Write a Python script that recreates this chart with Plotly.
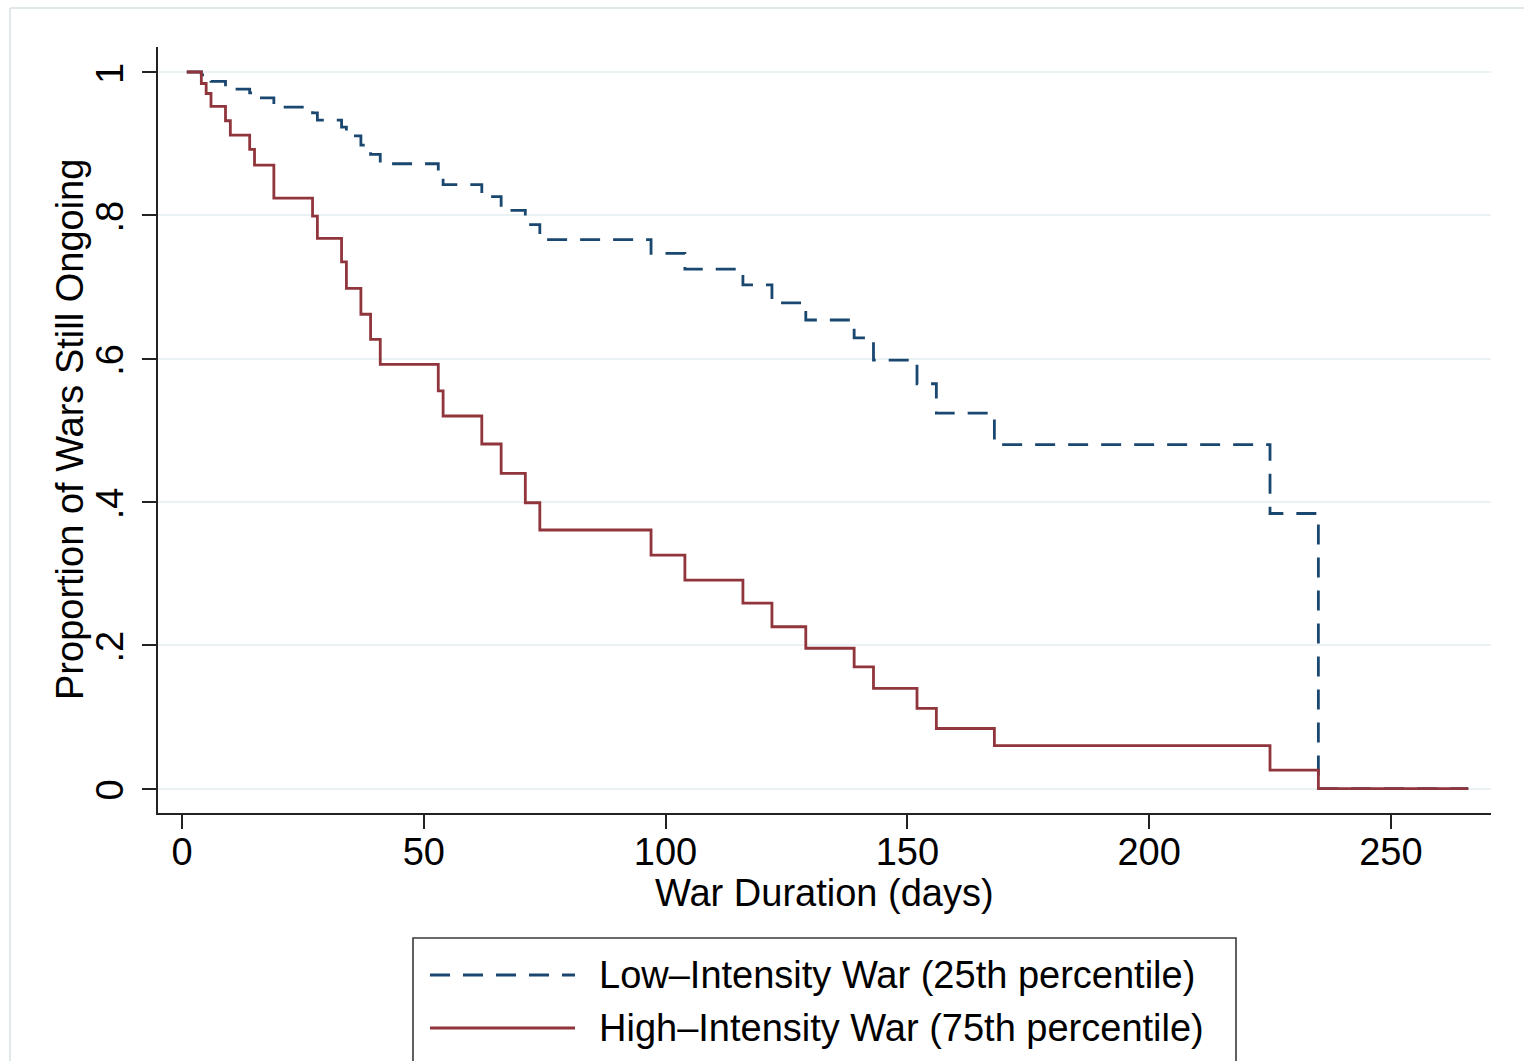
import plotly.graph_objects as go

# ---- data ----
days = [1, 4, 5, 6, 9, 10, 14, 15, 19, 27, 28, 33, 34, 37, 39, 41, 53, 54, 62, 66,
        71, 74, 97, 104, 116, 122, 129, 139, 143, 152, 156, 168, 225, 235, 266]
low_intensity = [1.0, 0.996, 0.992, 0.987, 0.982, 0.976, 0.971, 0.964, 0.951, 0.943,
                 0.933, 0.923, 0.911, 0.898, 0.885, 0.872, 0.858, 0.843, 0.826, 0.807,
                 0.787, 0.766, 0.747, 0.725, 0.703, 0.678, 0.654, 0.629, 0.598, 0.565,
                 0.524, 0.480, 0.384, 0.0, 0.0]
high_intensity = [1.0, 0.984, 0.970, 0.952, 0.932, 0.912, 0.892, 0.870, 0.824, 0.799,
                  0.768, 0.735, 0.698, 0.662, 0.627, 0.592, 0.555, 0.520, 0.481, 0.440,
                  0.399, 0.361, 0.326, 0.291, 0.259, 0.226, 0.196, 0.170, 0.140, 0.112,
                  0.084, 0.060, 0.026, 0.0, 0.0]
series_names = ["Low\u2013Intensity War (25th percentile)",
                "High\u2013Intensity War (75th percentile)"]
x_ticks = [0, 50, 100, 150, 200, 250]
y_ticks = [0, 0.2, 0.4, 0.6, 0.8, 1.0]
y_tick_labels = ["0", ".2", ".4", ".6", ".8", "1"]
x_title = "War Duration (days)"
y_title = "Proportion of Wars Still Ongoing"

# ---- style ----
W, H = 1524, 1061
ML, MR, MT, MB = 158, 33, 47, 248
PW, PH = W - ML - MR, H - MT - MB
BLUE = "#1a476f"
RED = "#90353b"
GRID = "#eaf2f3"
FONT = "Liberation Sans, Arial, Helvetica, sans-serif"
FS = 38
DASH = "20px,13px"


def px(x):
    return (x - ML) / PW


def py(y):
    return (H - MB - y) / PH


fig = go.Figure()
fig.add_trace(go.Scatter(x=days, y=low_intensity, mode="lines", line_shape="hv",
                         name=series_names[0],
                         line=dict(color=BLUE, width=2.8, dash=DASH)))
fig.add_trace(go.Scatter(x=days, y=high_intensity, mode="lines", line_shape="hv",
                         name=series_names[1],
                         line=dict(color=RED, width=2.8)))

shapes = []
annotations = []
# outer graph-region frame (cropped on right/bottom)
shapes.append(dict(type="line", xref="paper", yref="paper", x0=px(10), x1=px(W + 5),
                   y0=py(8), y1=py(8), line=dict(color="#e1e8e9", width=2)))
shapes.append(dict(type="line", xref="paper", yref="paper", x0=px(10), x1=px(10),
                   y0=py(8), y1=py(H + 5), line=dict(color="#e1e8e9", width=2)))
# custom legend box
shapes.append(dict(type="rect", xref="paper", yref="paper", x0=px(413), x1=px(1236),
                   y0=py(938), y1=py(1085), line=dict(color="#3a3a3a", width=1.6),
                   fillcolor="white", layer="above"))
rows = [975, 1028]
styles = [dict(color=BLUE, width=2.8, dash=DASH), dict(color=RED, width=2.8)]
for name, yy, st in zip(series_names, rows, styles):
    shapes.append(dict(type="line", xref="paper", yref="paper", x0=px(430), x1=px(575),
                       y0=py(yy), y1=py(yy), line=st, layer="above"))
    annotations.append(dict(xref="paper", yref="paper", x=px(597), y=py(yy),
                            xanchor="left", yanchor="middle", text=name, showarrow=False,
                            font=dict(family=FONT, size=FS, color="black")))

# axis titles
annotations.append(dict(xref="paper", yref="paper", x=px(824), y=py(893),
                        xanchor="center", yanchor="middle", text=x_title, showarrow=False,
                        font=dict(family=FONT, size=FS, color="black")))
annotations.append(dict(xref="paper", yref="paper", x=px(70), y=py(430),
                        xanchor="center", yanchor="middle", text=y_title, showarrow=False,
                        textangle=-90,
                        font=dict(family=FONT, size=FS, color="black")))

fig.update_layout(
    width=W, height=H,
    margin=dict(l=ML, r=MR, t=MT, b=MB),
    paper_bgcolor="white", plot_bgcolor="white",
    showlegend=False,
    font=dict(family=FONT, size=FS, color="black"),
    shapes=shapes,
    annotations=annotations,
)
fig.update_xaxes(
    range=[-4.96, 270.7], tickvals=x_ticks, ticks="outside", ticklen=14, tickwidth=1.6,
    tickcolor="#222", showline=True, linecolor="#222", linewidth=2, showgrid=False,
    zeroline=False, tickfont=dict(size=FS), ticklabelstandoff=-10,
)
fig.update_yaxes(
    range=[-0.0339, 1.0349], tickvals=y_ticks, ticktext=y_tick_labels, tickangle=-90,
    ticks="outside", ticklen=14, tickwidth=1.6, tickcolor="#222", showline=True,
    linecolor="#222", linewidth=2, showgrid=True, gridcolor=GRID, gridwidth=2,
    zeroline=False, tickfont=dict(size=FS), ticklabelshift=7, ticklabelstandoff=4,
)

fig.write_html("out.html")
